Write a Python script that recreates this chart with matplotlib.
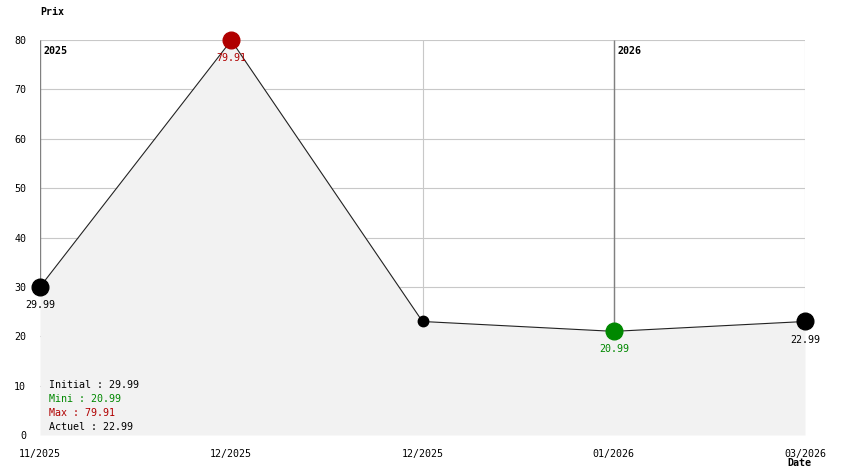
import matplotlib.pyplot as plt

# price history
dates = ['11/2025', '12/2025', '12/2025', '01/2026', '03/2026']
prices = [29.99, 79.91, 22.99, 20.99, 22.99]
point_colors = ['#000000', '#b00000', '#000000', '#008800', '#000000']
point_sizes = [12, 12, 7.5, 12, 12]
show_label = [True, True, False, True, True]
year_marks = [(0, '2025'), (3, '2026')]
yticks = [0, 10, 20, 30, 40, 50, 60, 70, 80]

mono = 'DejaVu Sans Mono'
fs = 7.2

fig = plt.figure(figsize=(8.44, 4.74), dpi=100)
ax = fig.add_axes([40 / 844, 39 / 474, 765 / 844, 395 / 474])
x = list(range(len(prices)))

ax.set_xlim(0, len(prices) - 1)
ax.set_ylim(0, 80)

# grid
for v in yticks[1:]:
    ax.axhline(v, color='#c8c8c8', lw=0.8, zorder=0)
for i in x[1:]:
    ax.axvline(i, color='#c8c8c8', lw=0.8, zorder=0)
# year separators, drawn from the top down to the curve
for i, yr in year_marks:
    ax.vlines(i, prices[i], 80, color='#808080', lw=1.0, zorder=0.5)
    ax.text(i + 0.02, 77.8, yr, fontsize=fs, family=mono, fontweight='bold',
            ha='left', va='center', zorder=5)

ax.fill_between(x, prices, 0, color='#f2f2f2', lw=0, zorder=1)
ax.plot(x, prices, color='#222222', lw=0.8, zorder=2)

for i, (p, c, s, lab) in enumerate(zip(prices, point_colors, point_sizes, show_label)):
    ax.plot(i, p, 'o', ms=s, color=c, mec=c, zorder=3, clip_on=False)
    if lab:
        ax.annotate(f'{p:.2f}', (i, p), xytext=(0, -13), textcoords='offset points',
                    ha='center', va='center', fontsize=fs, family=mono, color=c,
                    zorder=4, annotation_clip=False)

for s in ax.spines.values():
    s.set_visible(False)
ax.set_xticks(x)
ax.set_xticklabels(dates, family=mono, fontsize=fs)
ax.set_yticks(yticks)
ax.set_yticklabels([str(v) for v in yticks], family=mono, fontsize=fs)
ax.tick_params(length=0, pad=10)

# summary box
stats = [('Initial : 29.99', '#000000'), ('Mini : 20.99', '#008800'),
         ('Max : 79.91', '#b00000'), ('Actuel : 22.99', '#000000')]
for k, (t, c) in enumerate(stats):
    fig.text(49 / 844, 1 - (385 + 14 * k) / 474, t, fontsize=fs, family=mono,
             color=c, ha='left', va='center')

fig.text(40 / 844, 1 - 12 / 474, 'Prix', fontsize=fs, family=mono,
         fontweight='bold', ha='left', va='center')
fig.text(811 / 844, 1 - 463 / 474, 'Date', fontsize=fs, family=mono,
         fontweight='bold', ha='right', va='center')

fig.savefig('out.png', dpi=100)
